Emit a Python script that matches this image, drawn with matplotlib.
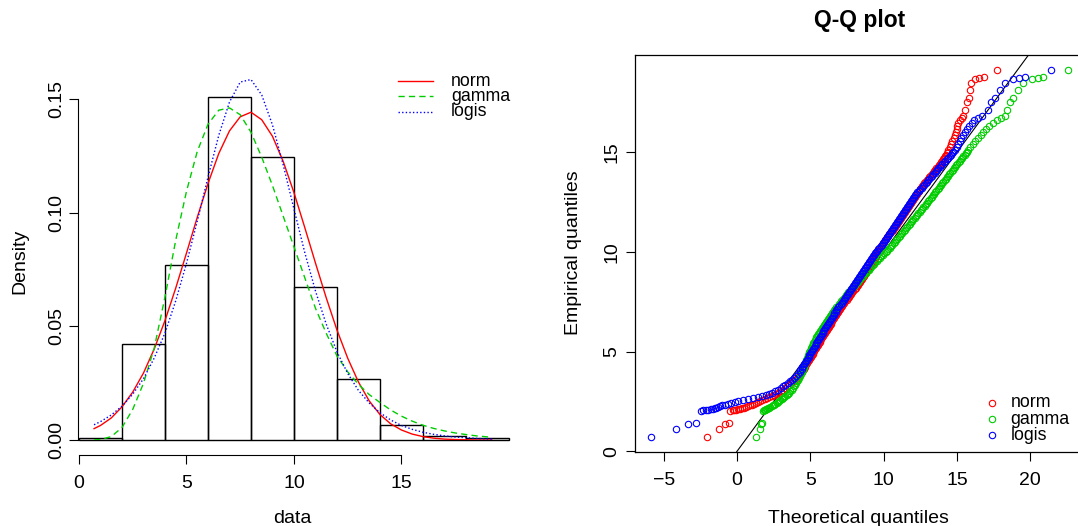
import matplotlib
matplotlib.use("Agg")
import matplotlib.pyplot as plt
from matplotlib.lines import Line2D

plt.rcParams['font.family'] = ['Liberation Sans', 'DejaVu Sans']

# ---------------- data: density comparison ----------------
hist_breaks = [0, 2, 4, 6, 8, 10, 12, 14, 16, 18, 20]
hist_density = [0.0007, 0.0424, 0.0772, 0.1512, 0.1245, 0.0675, 0.0270, 0.0068, 0.0019, 0.0007]

curve_x = [0.7, 1.0, 1.5, 2.0, 2.5, 3.0, 3.5, 4.0, 4.5, 5.0, 5.5, 6.0, 6.5, 7.0, 7.5, 8.0,
           8.5, 9.0, 9.5, 10.0, 10.5, 11.0, 11.5, 12.0, 12.5, 13.0, 13.5, 14.0, 14.5, 15.0,
           15.5, 16.0, 16.5, 17.0, 17.5, 18.0, 18.5, 19.2]
dens_norm = [0.0050, 0.0064, 0.0097, 0.0146, 0.0211, 0.0295, 0.0401, 0.0526, 0.0669, 0.0823,
             0.0980, 0.1129, 0.1261, 0.1361, 0.1423, 0.1443, 0.1410, 0.1337, 0.1226, 0.1089,
             0.0936, 0.0779, 0.0626, 0.0484, 0.0360, 0.0255, 0.0172, 0.0112, 0.0071, 0.0044,
             0.0026, 0.0015, 0.0008, 0.0004, 0.0002, 0.0001, 0.0000, 0.0000]
dens_gamma = [0.0000, 0.0002, 0.0015, 0.0055, 0.0135, 0.0250, 0.0405, 0.0630, 0.0880, 0.1095,
              0.1270, 0.1390, 0.1452, 0.1462, 0.1432, 0.1355, 0.1245, 0.1120, 0.0985, 0.0850,
              0.0715, 0.0580, 0.0470, 0.0370, 0.0300, 0.0245, 0.0200, 0.0165, 0.0132, 0.0105,
              0.0083, 0.0065, 0.0051, 0.0040, 0.0031, 0.0024, 0.0018, 0.0012]
dens_logis = [0.0067, 0.0081, 0.0110, 0.0149, 0.0202, 0.0270, 0.0361, 0.0471, 0.0613, 0.0778,
              0.0963, 0.1157, 0.1341, 0.1488, 0.1576, 0.1587, 0.1519, 0.1387, 0.1211, 0.1017,
              0.0826, 0.0656, 0.0510, 0.0388, 0.0293, 0.0218, 0.0163, 0.0120, 0.0088, 0.0064,
              0.0047, 0.0034, 0.0025, 0.0018, 0.0013, 0.0010, 0.0007, 0.0004]

# ---------------- data: Q-Q plot ----------------
qq_empirical = [
    0.73, 1.12, 1.38, 1.42,
    2.03, 2.05, 2.07, 2.09, 2.11, 2.13, 2.16, 2.19, 2.22, 2.26, 2.30, 2.34, 2.38, 2.42, 2.46, 2.50, 2.55, 2.60,
    2.65, 2.70, 2.76, 2.82, 2.88, 2.95, 3.02, 3.10, 3.18, 3.26, 3.34, 3.42, 3.51, 3.60, 3.70, 3.80, 3.90, 4.00,
    4.075, 4.15, 4.225, 4.30, 4.375, 4.45, 4.525, 4.60, 4.675, 4.75, 4.825, 4.90, 4.975, 5.05, 5.125,
    5.20, 5.275, 5.35, 5.425, 5.50, 5.575, 5.65, 5.725, 5.80, 5.875, 5.95, 6.025, 6.10, 6.175, 6.25,
    6.325, 6.40, 6.475, 6.55, 6.625, 6.70, 6.775, 6.85, 6.925, 7.00, 7.075, 7.15, 7.225, 7.30, 7.375,
    7.45, 7.525, 7.60, 7.675, 7.75, 7.825, 7.90, 7.975, 8.05, 8.125, 8.20, 8.275, 8.35, 8.425, 8.50,
    8.575, 8.65, 8.725, 8.80, 8.875, 8.95, 9.025, 9.10, 9.175, 9.25, 9.325, 9.40, 9.475, 9.55, 9.625,
    9.70, 9.775, 9.85, 9.925, 10.00, 10.075, 10.15, 10.225, 10.30, 10.375, 10.45, 10.525, 10.60, 10.675, 10.75,
    10.825, 10.90, 10.975, 11.05, 11.125, 11.20, 11.275, 11.35, 11.425, 11.50, 11.575, 11.65, 11.725, 11.80, 11.875,
    11.95, 12.025, 12.10, 12.175, 12.25, 12.325, 12.40, 12.475, 12.55, 12.625, 12.70, 12.775, 12.85, 12.925, 13.00,
    13.075, 13.15, 13.225, 13.30, 13.375, 13.45, 13.525, 13.60, 13.675, 13.75, 13.825, 13.90, 13.975, 14.05,
    14.125, 14.20, 14.275, 14.35, 14.425, 14.50, 14.575, 14.65, 14.725, 14.80, 14.875, 14.95, 15.025, 15.10,
    15.25, 15.40, 15.55, 15.70, 15.85, 16.00, 16.15, 16.30, 16.45,
    16.60, 16.70, 16.80, 17.12, 17.54, 17.74, 18.13, 18.46, 18.68, 18.75, 18.80, 19.13]

qq_theo_norm = [
    -2.05, -1.20, -0.84, -0.57,
    -0.45, -0.30, -0.18, -0.05, 0.08, 0.20, 0.32, 0.45, 0.58, 0.72, 0.86, 1.00, 1.14, 1.28, 1.42, 1.56, 1.72, 1.88,
    2.04, 2.20, 2.36, 2.52, 2.67, 2.82, 2.97, 3.12, 3.27, 3.41, 3.55, 3.68, 3.81, 3.94, 4.07, 4.20, 4.32, 4.44,
    4.48, 4.55, 4.61, 4.67, 4.73, 4.79, 4.85, 4.91, 4.97, 5.03, 5.09, 5.15, 5.21, 5.27, 5.33,
    5.39, 5.45, 5.51, 5.57, 5.63, 5.69, 5.75, 5.81, 5.87, 5.93, 5.99, 6.06, 6.12, 6.18, 6.25,
    6.31, 6.38, 6.44, 6.51, 6.58, 6.65, 6.71, 6.78, 6.85, 6.92, 6.98, 7.05, 7.12, 7.19, 7.26,
    7.33, 7.40, 7.47, 7.55, 7.62, 7.70, 7.78, 7.86, 7.94, 8.02, 8.10, 8.18, 8.26, 8.34, 8.41,
    8.48, 8.55, 8.62, 8.69, 8.76, 8.83, 8.90, 8.96, 9.02, 9.08, 9.14, 9.19, 9.24, 9.29, 9.34,
    9.39, 9.44, 9.49, 9.54, 9.60, 9.66, 9.72, 9.78, 9.85, 9.91, 9.98, 10.05, 10.12, 10.19, 10.26,
    10.33, 10.40, 10.47, 10.54, 10.61, 10.68, 10.75, 10.82, 10.89, 10.96, 11.03, 11.10, 11.17, 11.24, 11.31,
    11.38, 11.45, 11.52, 11.59, 11.66, 11.72, 11.79, 11.86, 11.93, 12.00, 12.06, 12.13, 12.20, 12.26, 12.33,
    12.40, 12.47, 12.545, 12.62, 12.695, 12.77, 12.85, 12.93, 13.015, 13.10, 13.185, 13.27, 13.355, 13.44,
    13.52, 13.60, 13.68, 13.76, 13.835, 13.91, 13.98, 14.05, 14.115, 14.18, 14.24, 14.30, 14.36, 14.42,
    14.52, 14.62, 14.70, 14.78, 14.85, 14.92, 14.98, 15.03, 15.10,
    15.20, 15.37, 15.45, 15.55, 15.67, 15.85, 15.92, 15.98, 16.23, 16.53, 16.87, 17.71]

qq_theo_gamma = [
    1.32, 1.55, 1.64, 1.70,
    1.76, 1.82, 1.88, 1.94, 2.00, 2.06, 2.13, 2.20, 2.27, 2.36, 2.45, 2.54, 2.62, 2.70, 2.78, 2.86, 2.95, 3.04,
    3.12, 3.20, 3.29, 3.38, 3.47, 3.56, 3.64, 3.73, 3.81, 3.89, 3.96, 4.03, 4.10, 4.17, 4.24, 4.31, 4.38, 4.45,
    4.47, 4.50, 4.54, 4.58, 4.62, 4.66, 4.70, 4.74, 4.78, 4.82, 4.86, 4.90, 4.94, 4.98, 5.025,
    5.07, 5.115, 5.16, 5.21, 5.26, 5.31, 5.36, 5.415, 5.47, 5.53, 5.59, 5.65, 5.71, 5.775, 5.84,
    5.905, 5.97, 6.04, 6.11, 6.18, 6.25, 6.325, 6.40, 6.475, 6.55, 6.625, 6.70, 6.78, 6.86, 6.94,
    7.02, 7.10, 7.18, 7.265, 7.35, 7.435, 7.52, 7.605, 7.69, 7.78, 7.87, 7.96, 8.05, 8.14, 8.23,
    8.32, 8.41, 8.505, 8.60, 8.695, 8.79, 8.885, 8.98, 9.07, 9.16, 9.25, 9.34, 9.435, 9.53, 9.63,
    9.73, 9.835, 9.94, 10.045, 10.15, 10.24, 10.33, 10.42, 10.51, 10.595, 10.68, 10.765, 10.85, 10.935, 11.02,
    11.105, 11.19, 11.275, 11.36, 11.445, 11.53, 11.615, 11.70, 11.785, 11.87, 11.955, 12.04, 12.125, 12.21, 12.295,
    12.38, 12.465, 12.55, 12.635, 12.72, 12.80, 12.88, 12.96, 13.04, 13.12, 13.20, 13.28, 13.36, 13.44, 13.52,
    13.60, 13.68, 13.76, 13.84, 13.92, 14.00, 14.08, 14.16, 14.24, 14.32, 14.40, 14.48, 14.56, 14.64,
    14.72, 14.80, 14.88, 14.96, 15.04, 15.12, 15.20, 15.28, 15.36, 15.44, 15.52, 15.60, 15.68, 15.76,
    15.92, 16.08, 16.26, 16.44, 16.62, 16.80, 17.00, 17.20, 17.45,
    17.75, 18.00, 18.25, 18.45, 18.62, 18.86, 19.20, 19.54, 20.15, 20.50, 20.90, 22.56]

qq_theo_logis = [
    -5.85, -4.14, -3.32, -2.82,
    -2.48, -2.30, -2.14, -1.95, -1.80, -1.65, -1.52, -1.40, -1.28, -1.14, -1.00, -0.80, -0.60, -0.38, -0.15, 0.10, 0.40, 0.75,
    1.10, 1.40, 1.70, 1.95, 2.20, 2.42, 2.62, 2.82, 3.00, 3.15, 3.30, 3.45, 3.60, 3.74, 3.88, 4.02, 4.15, 4.27,
    4.33, 4.40, 4.46, 4.52, 4.58, 4.64, 4.70, 4.76, 4.82, 4.88, 4.94, 5.00, 5.06, 5.12, 5.18,
    5.24, 5.30, 5.36, 5.42, 5.48, 5.54, 5.60, 5.66, 5.72, 5.78, 5.84, 5.90, 5.96, 6.02, 6.08,
    6.14, 6.20, 6.26, 6.33, 6.39, 6.46, 6.52, 6.59, 6.65, 6.72, 6.78, 6.85, 6.92, 6.99, 7.06,
    7.13, 7.20, 7.27, 7.34, 7.41, 7.48, 7.55, 7.62, 7.69, 7.76, 7.83, 7.90, 7.97, 8.04, 8.11,
    8.18, 8.25, 8.32, 8.39, 8.46, 8.53, 8.60, 8.67, 8.74, 8.81, 8.88, 8.95, 9.02, 9.09, 9.16,
    9.23, 9.30, 9.37, 9.44, 9.51, 9.58, 9.65, 9.72, 9.79, 9.86, 9.93, 10.00, 10.07, 10.14, 10.21,
    10.28, 10.35, 10.42, 10.49, 10.56, 10.63, 10.70, 10.77, 10.84, 10.91, 10.98, 11.05, 11.12, 11.19, 11.26,
    11.33, 11.40, 11.47, 11.54, 11.61, 11.68, 11.75, 11.82, 11.89, 11.96, 12.03, 12.10, 12.17, 12.24, 12.31,
    12.40, 12.50, 12.59, 12.68, 12.77, 12.86, 12.95, 13.04, 13.13, 13.22, 13.31, 13.40, 13.485, 13.57,
    13.655, 13.74, 13.83, 13.92, 14.01, 14.10, 14.20, 14.30, 14.40, 14.50, 14.59, 14.68, 14.76, 14.84,
    14.98, 15.10, 15.20, 15.30, 15.42, 15.56, 15.70, 15.85, 16.00,
    16.20, 16.46, 16.70, 17.15, 17.33, 17.60, 17.94, 18.28, 18.85, 19.25, 19.65, 21.40]

fit_names = ["norm", "gamma", "logis"]
fit_colors = ["#FF0000", "#00CD00", "#0000FF"]

# ---------------- figure ----------------
W, H = 1078, 526
fig = plt.figure(figsize=(W / 100, H / 100), dpi=100)


def axes_px(l, t, r, b):
    return fig.add_axes([l / W, 1 - b / H, (r - l) / W, (b - t) / H])


FS = 14
PX = 0.72  # points per pixel

# ---- left: histogram + densities ----
ax1 = axes_px(78, 50, 524, 440)
ax1.set_xlim(-0.047, 20.70)
ax1.set_ylim(0, 0.1717)
widths = [hist_breaks[i + 1] - hist_breaks[i] for i in range(len(hist_density))]
ax1.bar(hist_breaks[:-1], hist_density, width=widths, align='edge', fill=False,
        edgecolor='black', linewidth=1.0, clip_on=False)
ax1.plot(curve_x, dens_norm, color=fit_colors[0], lw=1.0, ls='-')
ax1.plot(curve_x, dens_gamma, color=fit_colors[1], lw=1.0, dashes=(4.5, 3.0))
ax1.plot(curve_x, dens_logis, color=fit_colors[2], lw=1.0, dashes=(1.0, 1.6))

for s in ['top', 'right']:
    ax1.spines[s].set_visible(False)
ax1.spines['bottom'].set_position(('outward', 15 * PX))
ax1.spines['bottom'].set_bounds(0, 15)
ax1.spines['left'].set_bounds(0, 0.15)
for s in ['bottom', 'left']:
    ax1.spines[s].set_linewidth(0.8)
ax1.set_xticks([0, 5, 10, 15])
ax1.set_yticks([0.00, 0.05, 0.10, 0.15])
ax1.set_yticklabels(["0.00", "0.05", "0.10", "0.15"])
ax1.tick_params(direction='out', length=9 * PX, width=0.8, labelsize=FS)
ax1.tick_params(axis='x', pad=8)
ax1.tick_params(axis='y', pad=2.5)
for lab in ax1.get_yticklabels():
    lab.set_rotation(90)
    lab.set_va('center')

fig.text(20 / W, 1 - 261 / H, "Density", rotation=90, ha='center', va='center', fontsize=FS)
fig.text(292 / W, 1 - 523 / H, "data", ha='center', va='baseline', fontsize=FS)

# legend (left)
leg_rows = [81, 96.5, 112]
leg_styles = [dict(ls='-'), dict(dashes=(4.5, 3.0)), dict(dashes=(1.0, 1.6))]
for i in range(3):
    y = 1 - leg_rows[i] / H
    fig.add_artist(Line2D([398 / W, 433 / W], [y, y], color=fit_colors[i], lw=1.0,
                          transform=fig.transFigure, **leg_styles[i]))
    fig.text(451 / W, y, fit_names[i], ha='left', va='center', fontsize=12.8)

# ---- right: Q-Q plot ----
ax2 = axes_px(634.7, 55.3, 1085, 451.7)
ax2.set_xlim(-6.98, 23.74)
ax2.set_ylim(-0.02, 19.87)
ax2.axline((0, 0), slope=1, color='black', lw=0.8)
theo = [qq_theo_norm, qq_theo_gamma, qq_theo_logis]
for i in range(3):
    ax2.plot(theo[i], qq_empirical, ls='none', marker='o', mfc='none',
             mec=fit_colors[i], ms=4.6, mew=0.8)
for s in ax2.spines.values():
    s.set_linewidth(0.9)
ax2.set_xticks([-5, 0, 5, 10, 15, 20])
ax2.set_yticks([0, 5, 10, 15])
ax2.tick_params(direction='out', length=9 * PX, width=0.8, labelsize=FS)
ax2.tick_params(axis='x', pad=8)
ax2.tick_params(axis='y', pad=4)
for lab in ax2.get_yticklabels():
    lab.set_rotation(90)
    lab.set_va('center')

fig.text(860 / W, 1 - 27.5 / H, "Q-Q plot", ha='center', va='baseline', fontsize=16.5,
         fontweight='bold')
fig.text(858 / W, 1 - 523 / H, "Theoretical quantiles", ha='center', va='baseline', fontsize=FS)
fig.text(573 / W, 1 - 253 / H, "Empirical quantiles", rotation=90, ha='center', va='center',
         fontsize=FS)

# legend (right)
qleg_rows = [402.7, 419.3, 435.3]
for i in range(3):
    y = 1 - qleg_rows[i] / H
    fig.add_artist(Line2D([992.3 / W], [y], ls='none', marker='o', mfc='none',
                          mec=fit_colors[i], ms=4.6, mew=0.8, transform=fig.transFigure))
    fig.text(1010.5 / W, y, fit_names[i], ha='left', va='center', fontsize=12.8)

fig.savefig("out.png", dpi=100)
